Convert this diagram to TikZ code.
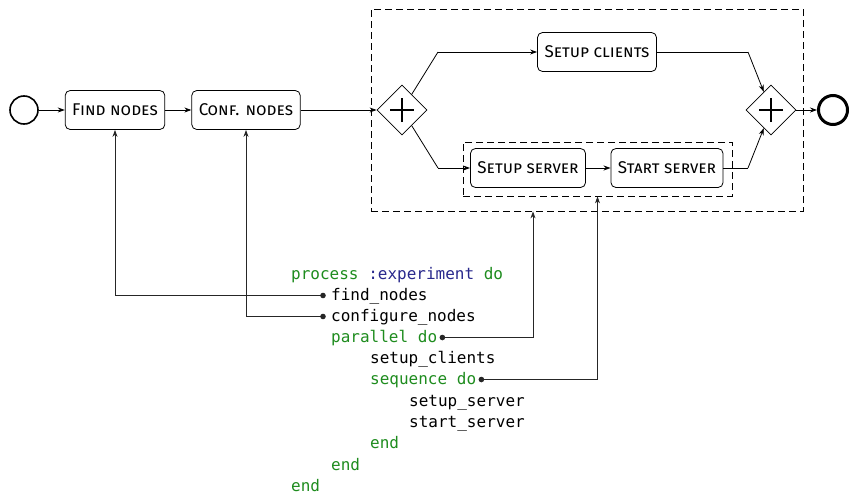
\documentclass[tikz,border=0pt]{standalone}
\usepackage{fontspec}
\setmainfont{Fira Sans}
\setmonofont{DejaVu Sans Mono}
\usetikzlibrary{arrows.meta,shapes.geometric}

\definecolor{kwColor}{RGB}{30,140,30}
\definecolor{symColor}{RGB}{40,40,140}
\definecolor{linkColor}{gray}{0.15}

\tikzset{
  flow/.style={-{Stealth[length=7pt,width=5pt]},line width=0.8pt},
  link/.style={-{Stealth[length=7pt,width=5pt]},draw=linkColor,line width=0.8pt},
  dot/.style={fill=linkColor},
  task/.style={draw,rounded corners=5pt,line width=0.8pt,minimum height=39pt,inner xsep=7pt,
    font=\fontsize{17}{20}\selectfont\scshape},
  gate/.style={draw,diamond,line width=0.8pt,minimum width=50pt,minimum height=50pt,inner sep=0pt},
  group/.style={draw,dash pattern=on 7pt off 4pt,line width=0.8pt},
  code/.style={anchor=base west,inner sep=0pt,font=\fontsize{16}{20}\ttfamily}
}

\newcommand{\kw}[1]{\textcolor{kwColor}{#1}}

\begin{document}
\begin{tikzpicture}[x=1pt,y=-1pt]
\path[use as bounding box] (0,0) rectangle (851,493);

% start and end events
\node[draw,circle,line width=1.6pt,minimum size=28pt,inner sep=0pt] (start) at (24,110) {};
\node[draw,circle,line width=3pt,minimum size=29pt,inner sep=0pt] (stop) at (833,110) {};

% tasks
\node[task] (find) at (115,110) {Find nodes};
\node[task] (conf) at (246,110) {Conf. nodes};
\node[task] (clients) at (597,52) {Setup clients};
\node[task] (server) at (528,168) {Setup server};
\node[task] (run) at (667,168) {Start server};

% gateways
\node[gate] (split) at (402,110) {};
\node[gate] (join) at (771,110) {};
\foreach \g in {split,join} {
  \draw[line width=1.6pt] ([xshift=-12pt]\g.center) -- ([xshift=12pt]\g.center);
  \draw[line width=1.6pt] ([yshift=-12pt]\g.center) -- ([yshift=12pt]\g.center);
}

% groups
\node[group,minimum width=432pt,minimum height=202pt] (par) at (587,110) {};
\node[group,minimum width=269pt,minimum height=54pt] (seq) at (597.5,169) {};

\coordinate (s1) at (438,52);
\coordinate (s2) at (438,168);
\coordinate (j1) at (748,52);
\coordinate (j2) at (748,168);

% sequence flow
\draw[flow] (start) -- (find);
\draw[flow] (find) -- (conf);
\draw[flow] (conf) -- (split);
\draw[line width=0.8pt] (split) -- (s1);
\draw[flow] (s1) -- (clients);
\draw[line width=0.8pt] (split) -- (s2);
\draw[flow] (s2) -- (server);
\draw[flow] (server) -- (run);
\draw[line width=0.8pt] (clients) -- (j1);
\draw[flow] (j1) -- (join);
\draw[line width=0.8pt] (run) -- (j2);
\draw[flow] (j2) -- (join);
\draw[flow] (join) -- (stop);

% code listing
\node[code] (l1) at (291,279) {\kw{process} \textcolor{symColor}{:experiment} \kw{do}};
\node[code] (l2) at (331,300) {find\_nodes};
\node[code] (l3) at (331,321) {configure\_nodes};
\node[code] (l4) at (331,342) {\kw{parallel do}};
\node[code] (l5) at (370,363) {setup\_clients};
\node[code] (l6) at (370,384) {\kw{sequence do}};
\node[code] (l7) at (409,406) {setup\_server};
\node[code] (l8) at (409,427) {start\_server};
\node[code] (l9) at (370,448) {\kw{end}};
\node[code] (l10) at (331,470) {\kw{end}};
\node[code] (l11) at (291,491) {\kw{end}};

% links from code to diagram
\coordinate (a2) at ([xshift=-8pt,yshift=4.5pt]l2.base west);
\coordinate (a3) at ([xshift=-8pt,yshift=4.5pt]l3.base west);
\coordinate (a4) at ([xshift=5pt,yshift=4.5pt]l4.base east);
\coordinate (a6) at ([xshift=5pt,yshift=4.5pt]l6.base east);
\draw[link] (a2) -| (find.south);
\draw[link] (a3) -| (conf.south);
\draw[link] (a4) -| ([xshift=-54pt]par.south);
\draw[link] (a6) -| (seq.south);
\foreach \a in {a2,a3,a4,a6}
  \fill[dot] (\a) circle (2.8pt);
\end{tikzpicture}
\end{document}
